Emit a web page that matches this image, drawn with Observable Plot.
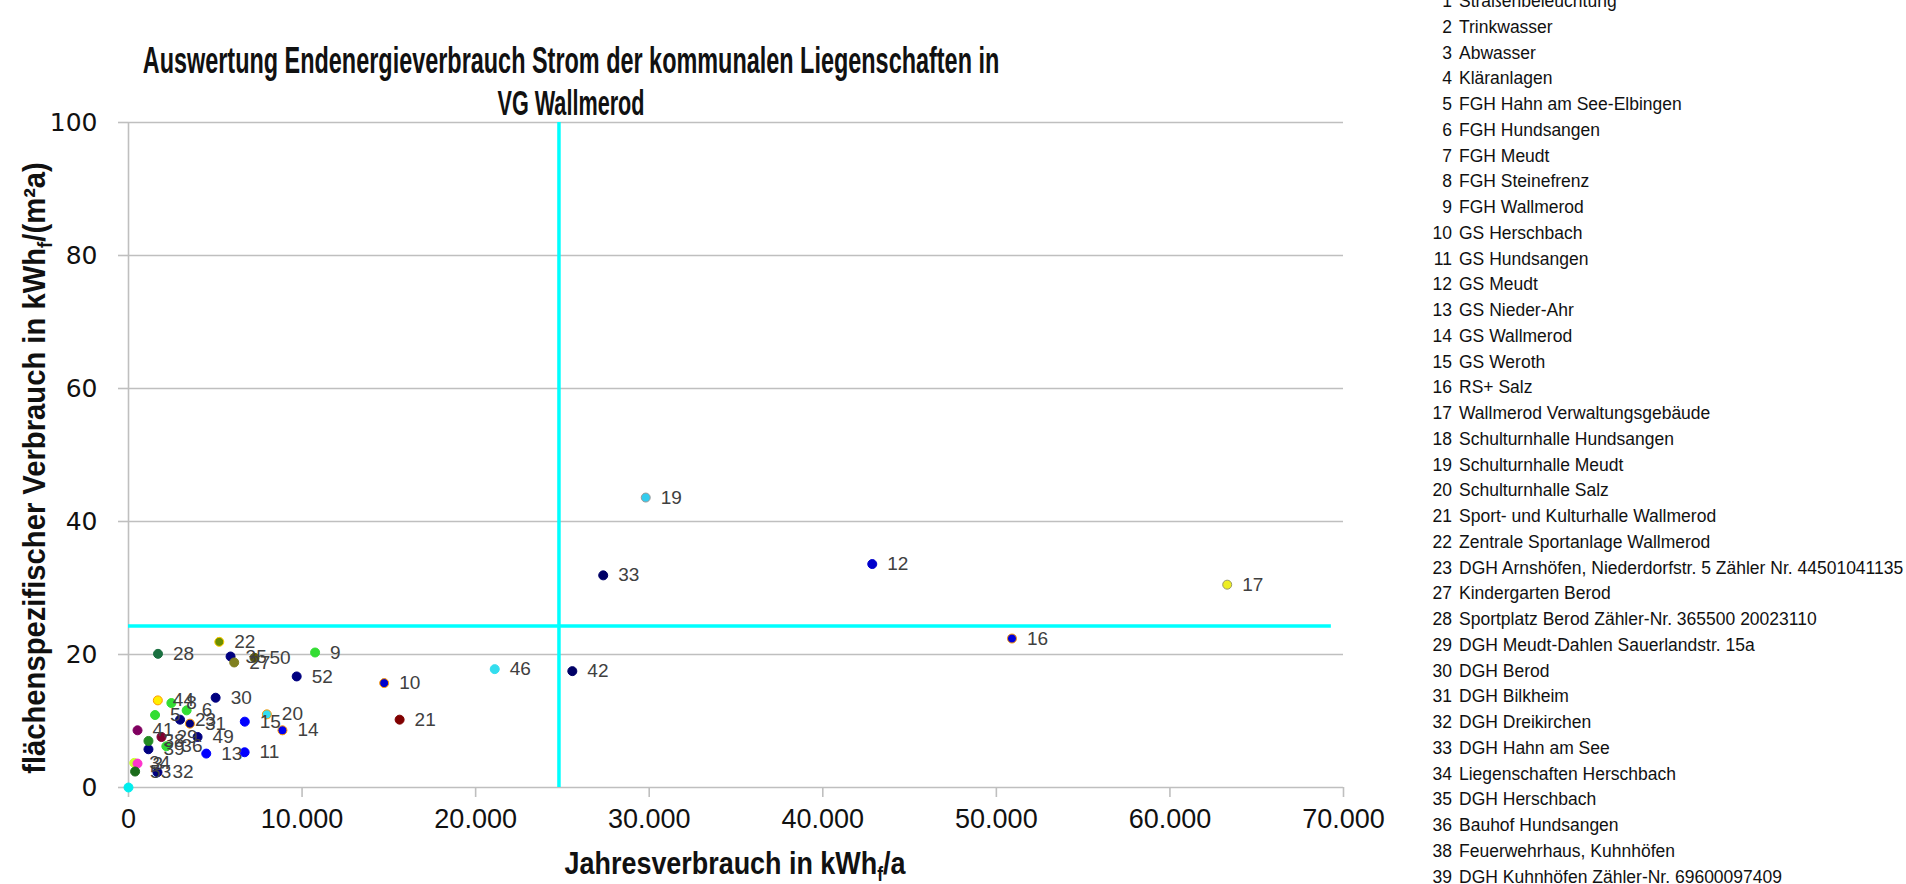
<!DOCTYPE html>
<html>
<head>
<meta charset="utf-8">
<script src="https://cdn.jsdelivr.net/npm/d3@7"></script>
<script src="https://cdn.jsdelivr.net/npm/@observablehq/plot@0.6"></script>
<style>
  html, body { margin: 0; padding: 0; background: #fff; }
  #wrap { position: relative; width: 1906px; height: 884px; overflow: hidden; background: #fff; }
  #chart { position: absolute; left: 0; top: 0; }
  #title { position: absolute; left: 0; top: 0; pointer-events: none; }
  #legend { position: absolute; left: 1430px; top: 0; }
</style>
</head>
<body>
<div id="wrap">
  <div id="chart"></div>
  <svg id="title" width="1430" height="122"></svg>
  <svg id="legend" width="476" height="884"></svg>
</div>
<script>
// ---- data ----
const labels = ["19","33","12","17","16","46","42","10","21","52","9","14","11","13","15","20","30","22","28","35","27","50","44","8","6","5","23","31","49","29","41","39","36","38","34","3","53","32",""];
const xValues = [29800,27350,42850,63300,50900,21100,25570,14730,15620,9690,10750,8870,6690,4480,6700,7970,5020,5230,1700,5880,6090,7260,1690,2470,3350,1530,2970,3540,3980,1900,520,1150,2180,1150,330,520,380,1670,0];
const yValues = [43.6,31.9,33.6,30.5,22.4,17.8,17.5,15.7,10.2,16.7,20.3,8.6,5.3,5.1,9.9,11.0,13.5,21.9,20.1,19.7,18.8,19.5,13.1,12.7,11.6,10.9,10.2,9.6,7.6,7.6,8.6,5.75,6.2,7.0,3.7,3.6,2.4,2.3,0];
const fills = ["#33ccee","#000066","#0000cc","#eeee22","#0000dd","#33ddee","#000066","#0000cc","#800000","#000080","#33dd33","#0000ee","#0000ff","#0000ff","#0000ff","#33ddee","#000080","#6b8e00","#1a7040","#000080","#808020","#5c5c00","#ffee00","#33dd33","#33dd33","#33dd33","#000080","#000080","#000080","#800030","#800060","#000080","#33dd33","#228b22","#ccff33","#ff33cc","#1a6b1a","#000080","#00eeee"];
const strokes = ["#999999","#000066","#0000cc","#999966","#ff9900","#33ddee","#000066","#ff9900","#800000","#000080","#33dd33","#ff9900","#0000ff","#0000ff","#0000ff","#ff9900","#000080","#ffcc00","#1a7040","#000080","#808020","#5c5c00","#ff9900","#33dd33","#33dd33","#33dd33","#000080","#ff9900","#000080","#800030","#800060","#000080","#33dd33","#228b22","#ccff33","#ff33cc","#1a6b1a","#000080","#00eeee"];

const refX = [24800];
const refY = [24.3];
const xTicks = [0,10000,20000,30000,40000,50000,60000,70000];
const yTicks = [0,20,40,60,80,100];

const titleLines = ["Auswertung Endenergieverbrauch Strom der kommunalen Liegenschaften in", "VG Wallmerod"];
const xLabel = ["Jahresverbrauch in kWh", "f", "/a"];
const yLabel = ["flächenspezifischer Verbrauch in kWh", "f", "/(m²a)"];

const legendIds = [1,2,3,4,5,6,7,8,9,10,11,12,13,14,15,16,17,18,19,20,21,22,23,27,28,29,30,31,32,33,34,35,36,38,39];
const legendNames = ["Straßenbeleuchtung","Trinkwasser","Abwasser","Kläranlagen","FGH Hahn am See-Elbingen","FGH Hundsangen","FGH Meudt","FGH Steinefrenz","FGH Wallmerod","GS Herschbach","GS Hundsangen","GS Meudt","GS Nieder-Ahr","GS Wallmerod","GS Weroth","RS+ Salz","Wallmerod Verwaltungsgebäude","Schulturnhalle Hundsangen","Schulturnhalle Meudt","Schulturnhalle Salz","Sport- und Kulturhalle Wallmerod","Zentrale Sportanlage Wallmerod","DGH Arnshöfen, Niederdorfstr. 5 Zähler Nr. 44501041135","Kindergarten Berod","Sportplatz Berod Zähler-Nr. 365500 20023110","DGH Meudt-Dahlen Sauerlandstr. 15a","DGH Berod","DGH Bilkheim","DGH Dreikirchen","DGH Hahn am See","Liegenschaften Herschbach","DGH Herschbach","Bauhof Hundsangen","Feuerwehrhaus, Kuhnhöfen","DGH Kuhnhöfen Zähler-Nr. 69600097409"];

const points = labels.map((l, i) => ({label: l, x: xValues[i], y: yValues[i], fill: fills[i], stroke: strokes[i]}));

const fmt = d => d3.format(",")(d).replace(/,/g, ".");

const plot = Plot.plot({
  width: 1430,
  height: 884,
  marginLeft: 128,
  marginRight: 87,
  marginTop: 122,
  marginBottom: 97,
  style: {fontFamily: "Liberation Sans, Arial, sans-serif", background: "#fff", overflow: "visible"},
  x: {domain: [0, 70000]},
  y: {domain: [0, 100]},
  color: {type: "identity"},
  marks: [
    Plot.gridY(yTicks, {stroke: "#bfbfbf", strokeOpacity: 1, strokeWidth: 1.6}),
    Plot.ruleX([0], {y1: 0, y2: 100, stroke: "#bfbfbf", strokeWidth: 1.6}),
    Plot.axisY(yTicks, {tickSize: 10, tickPadding: 21, stroke: "#bfbfbf", strokeWidth: 1.6, fill: "#111", fontSize: 25, fontFamily: "DejaVu Sans", label: null}),
    Plot.axisX(xTicks, {tickSize: 10, tickPadding: 11, stroke: "#bfbfbf", strokeWidth: 1.6, fill: "#111", fontSize: 27, tickFormat: fmt, label: null}),
    Plot.ruleX(refX, {y1: 0, y2: 100, stroke: "#00ffff", strokeWidth: 3.5}),
    Plot.ruleY(refY, {x1: 0, x2: 69300, stroke: "#00ffff", strokeWidth: 3.5}),
    Plot.dot(points, {x: "x", y: "y", fill: "fill", stroke: "stroke", r: 4.5, strokeWidth: 1}),
    Plot.text(points, {x: "x", y: "y", text: "label", dx: 15, textAnchor: "start", fontSize: 19, fill: "#404040"})
  ]
});
document.getElementById("chart").appendChild(plot);

// fit a text element horizontally to a target width by scaling (keeps glyph height)
function fitText(t, x, y, len, rotate) {
  const natural = t.node().getComputedTextLength() || len;
  const s = len / natural;
  t.attr("transform", `translate(${x},${y})` + (rotate ? " rotate(-90)" : "") + ` scale(${s},1)`);
}

// axis titles
const svg = d3.select(plot);
function addLabel(parts, x, y, len, rotate) {
  const t = svg.append("text")
    .attr("text-anchor", "middle")
    .attr("font-family", "Liberation Sans Narrow, Liberation Sans, Arial, sans-serif")
    .attr("font-weight", "bold")
    .attr("font-size", 31)
    .attr("fill", "#111");
  t.append("tspan").text(parts[0]);
  t.append("tspan").attr("font-size", 20).attr("dy", 7).text(parts[1]);
  t.append("tspan").attr("dy", -7).text(parts[2]);
  fitText(t, x, y, len, rotate);
}
addLabel(xLabel, 735, 874, 341, false);
addLabel(yLabel, 45, 468, 612, true);

// title
const ts = d3.select("#title");
titleLines.forEach((line, i) => {
  const t = ts.append("text")
    .attr("text-anchor", "middle")
    .attr("font-family", "Liberation Sans Narrow, Liberation Sans, Arial, sans-serif")
    .attr("font-weight", "bold")
    .attr("font-size", 36)
    .attr("fill", "#111")
    .text(line);
  fitText(t, 571, i === 0 ? 73 : 115, i === 0 ? 857 : 147, false);
});

// legend list
const lg = d3.select("#legend");
const rows = lg.selectAll("g").data(legendIds).join("g")
  .attr("transform", (d, i) => `translate(0,${25.75 * i + 7})`)
  .attr("font-family", "Liberation Sans, Arial, sans-serif")
  .attr("font-size", 17.5)
  .attr("fill", "#111");
rows.append("text").attr("x", 22).attr("text-anchor", "end").text(d => d);
rows.append("text").attr("x", 29).text((d, i) => legendNames[i]);
</script>
</body>
</html>
